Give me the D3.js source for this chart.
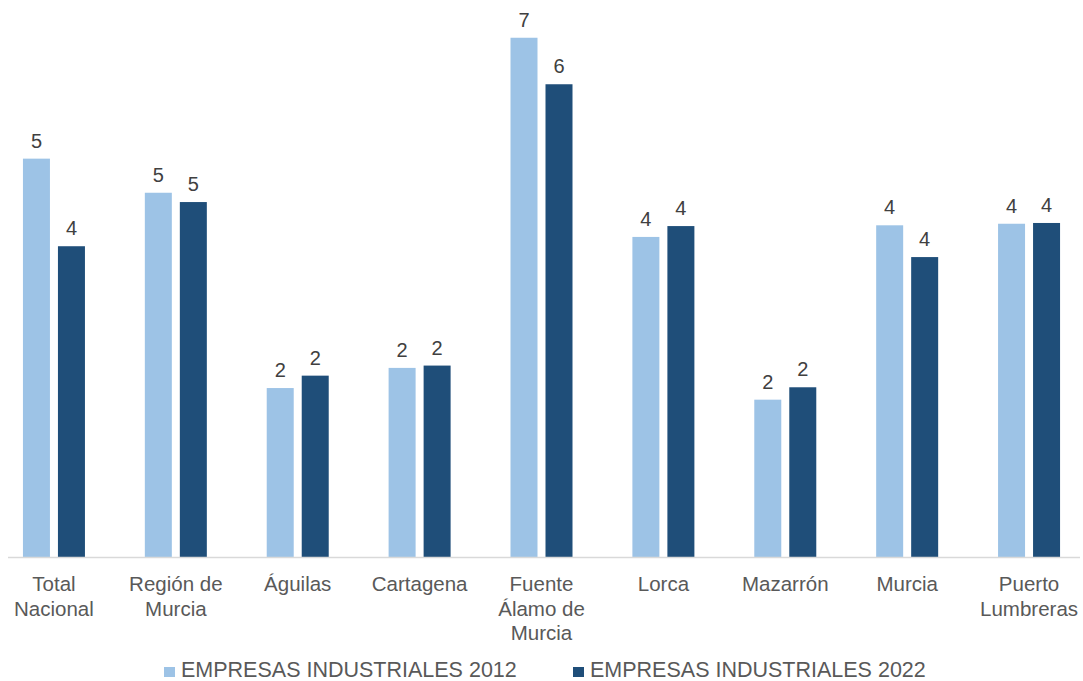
<!DOCTYPE html>
<html>
<head>
<meta charset="utf-8">
<script src="https://cdn.jsdelivr.net/npm/d3@7"></script>
<style>
  html, body { margin: 0; padding: 0; background: #ffffff; }
  svg { display: block; font-family: "Liberation Sans", Arial, sans-serif; }
</style>
</head>
<body>
<svg id="chart" width="1083" height="681"></svg>
<script>
const categories = [
  ["Total", "Nacional"],
  ["Región de", "Murcia"],
  ["Águilas"],
  ["Cartagena"],
  ["Fuente", "Álamo de", "Murcia"],
  ["Lorca"],
  ["Mazarrón"],
  ["Murcia"],
  ["Puerto", "Lumbreras"]
];
const seriesNames = ["EMPRESAS INDUSTRIALES 2012", "EMPRESAS INDUSTRIALES 2022"];
const values2012 = [5.14, 4.70, 2.18, 2.44, 6.70, 4.13, 2.03, 4.28, 4.30];
const values2022 = [4.01, 4.58, 2.34, 2.47, 6.10, 4.27, 2.19, 3.87, 4.31];
const seriesColors = ["#9DC3E6", "#1F4E79"];

const svg = d3.select("#chart");
const catKeys = categories.map(c => c.join(" "));
const baseY = 557;

const x0 = d3.scaleBand().domain(catKeys).range([-7, 1090]).paddingInner(0).paddingOuter(0);
const x1 = d3.scaleBand().domain(seriesNames).range([-31, 31]).paddingInner(0.2286).paddingOuter(0);
const y = d3.scaleLinear().domain([0, 7]).range([baseY, baseY - 77.5 * 7]);

const data = catKeys.map((k, i) => ({ key: k, lines: categories[i], vals: [values2012[i], values2022[i]] }));

const groups = svg.selectAll("g.cat").data(data).enter().append("g")
  .attr("class", "cat")
  .attr("transform", d => `translate(${x0(d.key) + x0.bandwidth() / 2},0)`);

groups.selectAll("rect").data(d => d.vals.map((v, j) => ({ s: seriesNames[j], v, j })))
  .enter().append("rect")
  .attr("x", d => x1(d.s))
  .attr("width", x1.bandwidth())
  .attr("y", d => y(d.v))
  .attr("height", d => y(0) - y(d.v))
  .attr("fill", d => seriesColors[d.j]);

groups.selectAll("text.val").data(d => d.vals.map((v, j) => ({ s: seriesNames[j], v, j })))
  .enter().append("text")
  .attr("class", "val")
  .attr("x", d => x1(d.s) + x1.bandwidth() / 2)
  .attr("y", d => y(d.v) - 11)
  .attr("text-anchor", "middle")
  .attr("font-size", 20)
  .attr("fill", "#404040")
  .text(d => d3.format(".0f")(d.v));

// axis line
svg.append("line")
  .attr("x1", 8).attr("x2", 1080)
  .attr("y1", baseY + 0.5).attr("y2", baseY + 0.5)
  .attr("stroke", "#D9D9D9").attr("stroke-width", 1.5);

// category labels
groups.each(function(d) {
  const t = d3.select(this).append("text")
    .attr("text-anchor", "middle")
    .attr("font-size", 20.5)
    .attr("fill", "#595959");
  d.lines.forEach((ln, i) => {
    t.append("tspan").attr("x", 0).attr("y", 591 + i * 24.5).text(ln);
  });
});

// legend
const legendX = [164, 573];
seriesNames.forEach((s, i) => {
  const g = svg.append("g").attr("transform", `translate(${legendX[i]},0)`);
  g.append("rect").attr("x", 0).attr("y", 667).attr("width", 11).attr("height", 10).attr("fill", seriesColors[i]);
  g.append("text").attr("x", 17).attr("y", 677).attr("font-size", 21.5).attr("fill", "#595959").text(s);
});
</script>
</body>
</html>
